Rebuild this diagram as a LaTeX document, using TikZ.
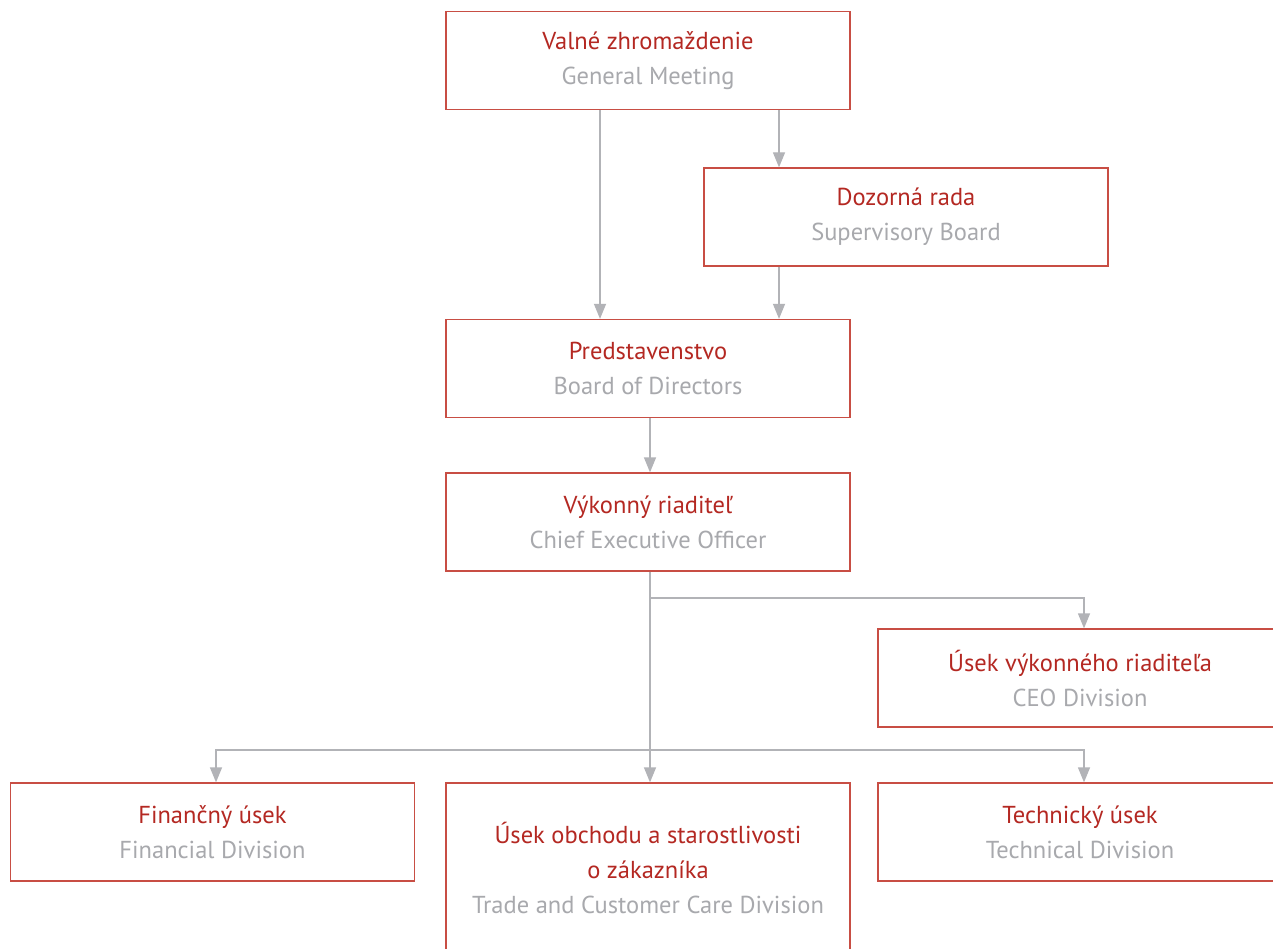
\documentclass[tikz,border=0pt]{standalone}
\usepackage{fontspec}
\setmainfont{PT Sans}
\usetikzlibrary{arrows.meta}
\definecolor{boxred}{RGB}{200,78,68}
\definecolor{txtred}{RGB}{180,40,34}
\definecolor{txtgray}{RGB}{168,169,173}
\definecolor{linegray}{RGB}{178,179,183}
\tikzset{
  orgbox/.style={draw=boxred, line width=1.3pt, fill=white, minimum width=404pt, minimum height=98pt, align=center, inner sep=0pt,
    font=\fontsize{24.5}{35}\selectfont},
  conn/.style={draw=linegray, line width=1.3pt, -{Triangle[length=15pt,width=12pt]}}
}
\newcommand{\rd}[1]{\textcolor{txtred}{#1}}
\newcommand{\gr}[1]{\textcolor{txtgray}{#1}}
\begin{document}
\begin{tikzpicture}[x=1pt,y=-1pt]
\useasboundingbox (0,0) rectangle (1273,949);
\clip (0,0) rectangle (1273,949);
\fill[white] (0,0) rectangle (1273,949);
\node[orgbox] (gm) at (648,60.5) {\rd{Valné zhromaždenie}\\\gr{General Meeting}};
\node[orgbox] (doz) at (906,217) {\rd{Dozorná rada}\\\gr{Supervisory Board}};
\node[orgbox] (pred) at (648,368.5) {\rd{Predstavenstvo}\\\gr{Board of Directors}};
\node[orgbox] (vyk) at (648,522) {\rd{Výkonný riaditeľ}\\\gr{Chief Executive Officer}};
\node[orgbox] (ceo) at (1080,678) {\rd{Úsek výkonného riaditeľa}\\\gr{CEO Division}};
\node[orgbox] (fin) at (212.5,832) {\rd{Finančný úsek}\\\gr{Financial Division}};
\node[orgbox, minimum height=170pt] (obch) at (648,868) {\rd{Úsek obchodu a starostlivosti}\\\rd{o zákazníka}\\\gr{Trade and Customer Care Division}};
\node[orgbox] (tech) at (1080,832) {\rd{Technický úsek}\\\gr{Technical Division}};
\coordinate (b1) at ([xshift=2pt]vyk.south |- 0,598);
\coordinate (b2) at ([xshift=2pt]vyk.south |- 0,750);
\draw[conn] ([xshift=-48pt]gm.south) -- ([xshift=-48pt]gm.south |- pred.north);
\draw[conn] ([xshift=131pt]gm.south) -- ([xshift=131pt]gm.south |- doz.north);
\draw[conn] ([xshift=-127pt]doz.south) -- ([xshift=-127pt]doz.south |- pred.north);
\draw[conn] ([xshift=2pt]pred.south) -- ([xshift=2pt]vyk.north);
\draw[conn] ([xshift=2pt]vyk.south) -- ([xshift=2pt]obch.north);
\draw[conn] (b1) -| ([xshift=4pt]ceo.north);
\draw[conn] (b2) -| ([xshift=3.5pt]fin.north);
\draw[conn] (b2) -| ([xshift=4pt]tech.north);
\end{tikzpicture}
\end{document}
